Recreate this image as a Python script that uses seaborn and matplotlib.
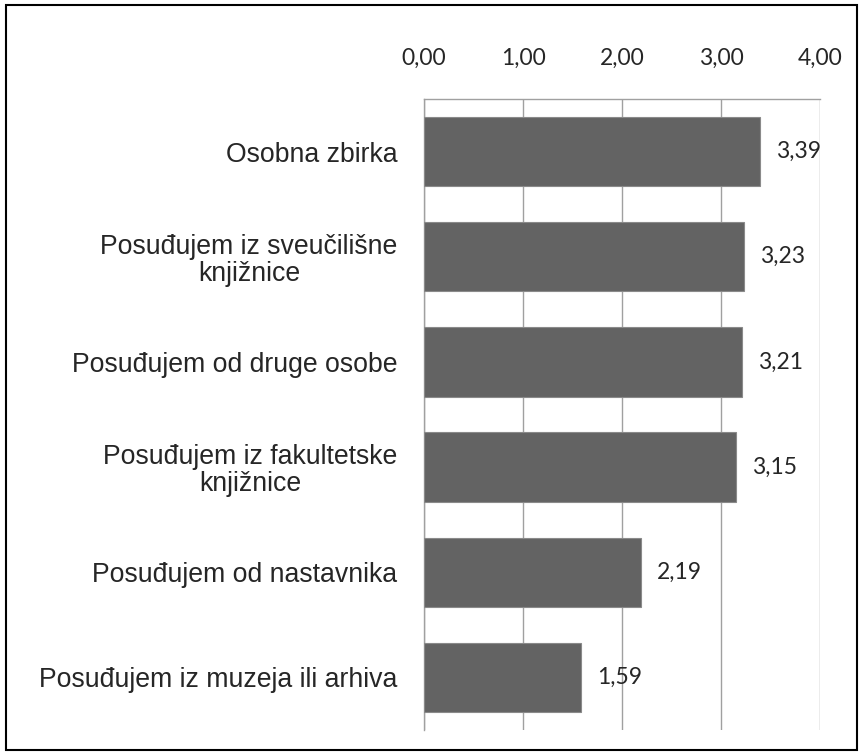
import numpy as np
import pandas as pd
import matplotlib
matplotlib.use("Agg")
import matplotlib.pyplot as plt
import seaborn as sns
from matplotlib.patches import Rectangle

# podaci
kategorije = [
    "Osobna zbirka",
    "Posuđujem iz sveučilišne\nknjižnice",
    "Posuđujem od druge osobe",
    "Posuđujem iz fakultetske\nknjižnice",
    "Posuđujem od nastavnika",
    "Posuđujem iz muzeja ili arhiva",
]
vrijednosti = [3.39, 3.23, 3.21, 3.15, 2.19, 1.59]
x_ticks = [0, 1, 2, 3, 4]

df = pd.DataFrame({"kat": kategorije, "val": vrijednosti})

sns.set_style("white")
fig = plt.figure(figsize=(8.63, 7.55), dpi=100)
ax = fig.add_axes([0.4913, 0.0331, 0.4589, 0.8358])

sns.barplot(data=df, x="val", y="kat", orient="h", color="#636363",
            width=0.66, edgecolor="#8a8a8a", linewidth=0.8, saturation=1, ax=ax, zorder=3)

ax.set_xlim(0, 4)
ax.set_ylim(5.5, -0.5)
ax.set_xticks(x_ticks)
ax.set_xticklabels([f"{t:.2f}".replace(".", ",") for t in x_ticks],
                   fontfamily="Lato", fontsize=16.5)
ax.xaxis.tick_top()
ax.tick_params(axis="x", length=0, pad=22)
ax.tick_params(axis="y", length=0, pad=19)
for lab in ax.get_yticklabels():
    lab.set_fontfamily("Liberation Sans")
    lab.set_fontsize(19.2)
    lab.set_multialignment("center")
    lab.set_linespacing(1.05)
ax.set_xlabel("")
ax.set_ylabel("")
ax.grid(axis="x", color="#a0a0a0", linewidth=1, zorder=0)

for s in ["bottom", "right"]:
    ax.spines[s].set_visible(False)
for s in ["top", "left"]:
    ax.spines[s].set_color("#a0a0a0")
    ax.spines[s].set_linewidth(1)

# vrijednosti uz stupce
for i, v in enumerate(vrijednosti):
    ax.annotate(f"{v:.2f}".replace(".", ","), xy=(v, i), xytext=(11.5, 0),
                textcoords="offset points", va="center", ha="left",
                fontfamily="Lato", fontsize=16.5, zorder=4)

# okvir oko grafikona
fig.patches.append(Rectangle((0.007, 0.006), 0.986, 0.988, transform=fig.transFigure,
                             fill=False, edgecolor="black", linewidth=1.5))

fig.savefig("out.png", dpi=100)
